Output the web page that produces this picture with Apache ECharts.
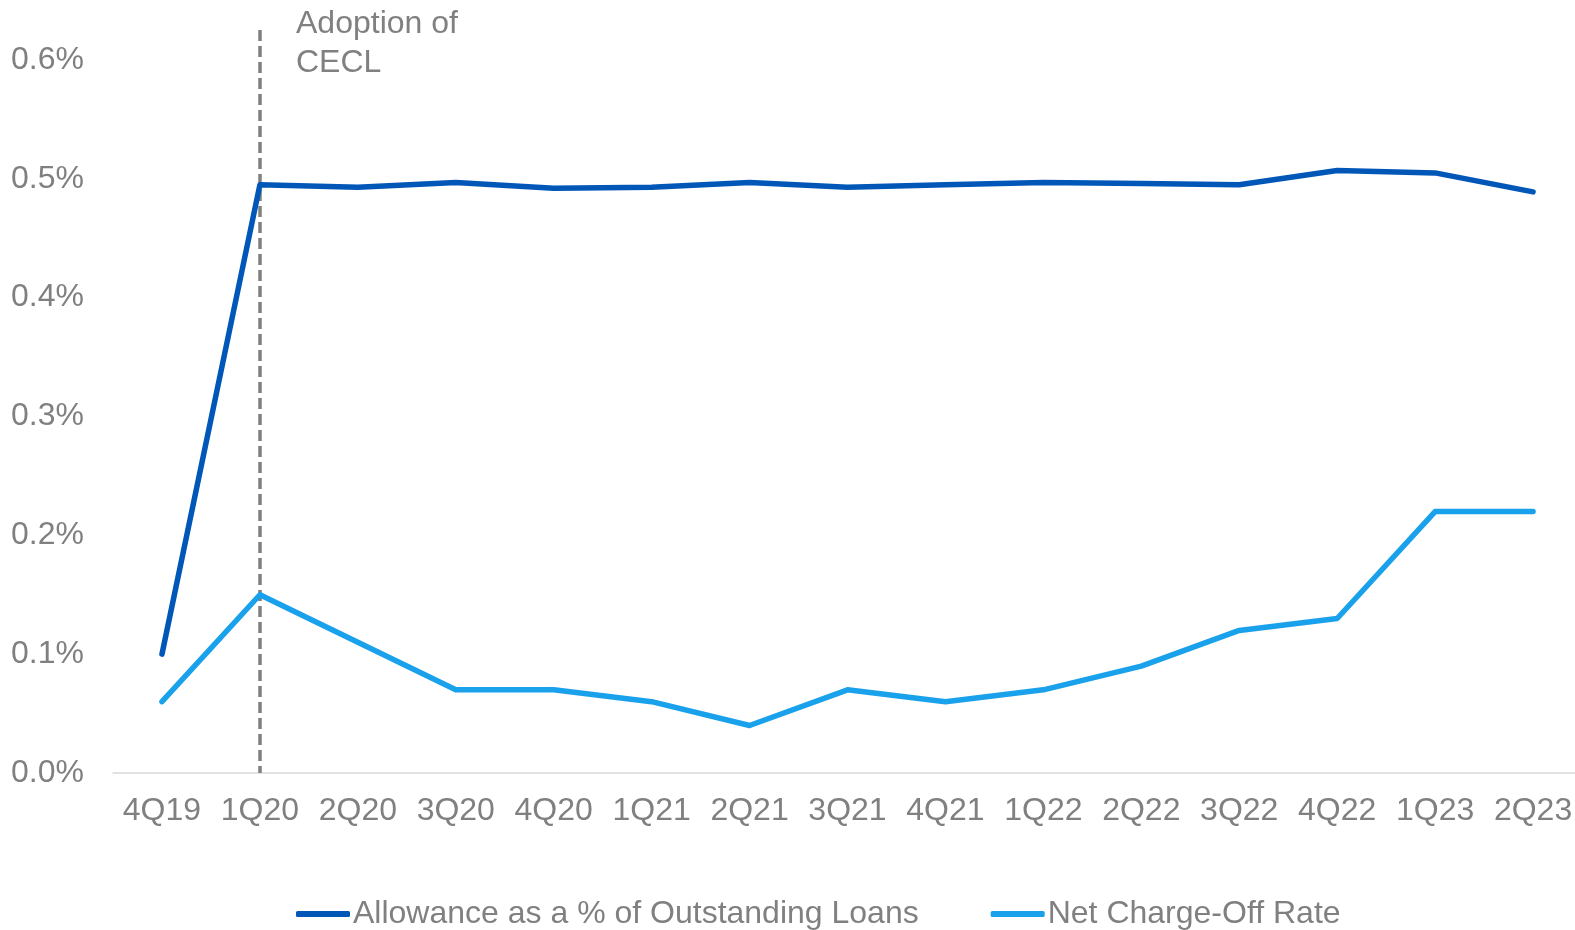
<!DOCTYPE html>
<html>
<head>
<meta charset="utf-8">
<script src="https://cdn.jsdelivr.net/npm/echarts@6/dist/echarts.min.js"></script>
<style>
  html, body { margin: 0; padding: 0; background: #fff; }
  #chart { width: 1575px; height: 930px; }
</style>
</head>
<body>
<div id="chart"></div>
<script>
// Quarterly credit metrics (percent)
const quarters = ['4Q19','1Q20','2Q20','3Q20','4Q20','1Q21','2Q21','3Q21','4Q21','1Q22','2Q22','3Q22','4Q22','1Q23','2Q23'];
const allowancePct = [0.100, 0.495, 0.493, 0.497, 0.492, 0.493, 0.497, 0.493, 0.495, 0.497, 0.496, 0.495, 0.507, 0.505, 0.489];
const netChargeOffPct = [0.06, 0.15, 0.11, 0.07, 0.07, 0.06, 0.04, 0.07, 0.06, 0.07, 0.09, 0.12, 0.13, 0.22, 0.22];
const yTicks = [0, 0.1, 0.2, 0.3, 0.4, 0.5, 0.6];
const cecl = { quarter: '1Q20', label: ['Adoption of', 'CECL'] };

const FONT = '"Liberation Sans", Arial, sans-serif';
const GRAY = '#808080';
const DARK = '#0057B8';
const LIGHT = '#1AA1EC';
const FS = 32;

const chart = echarts.init(document.getElementById('chart'), null, { renderer: 'canvas' });

chart.setOption({
  animation: false,
  backgroundColor: '#ffffff',
  grid: { left: 113, width: 1469, top: 60, bottom: 157, containLabel: false, outerBoundsMode: 'none' },
  xAxis: {
    type: 'category',
    data: quarters,
    boundaryGap: true,
    axisLine: { show: true, lineStyle: { color: '#D9D9D9', width: 1.5 } },
    axisTick: { show: false },
    axisLabel: { color: GRAY, fontFamily: FONT, fontSize: FS, margin: 22, interval: 0 }
  },
  yAxis: {
    type: 'value',
    min: yTicks[0],
    max: yTicks[yTicks.length - 1],
    interval: 0.1,
    axisLine: { show: false },
    axisTick: { show: false },
    splitLine: { show: false },
    axisLabel: {
      color: GRAY, fontFamily: FONT, fontSize: FS, margin: 29,
      formatter: v => v.toFixed(1) + '%'
    }
  },
  legend: {
    left: 296,
    top: 898,
    padding: 0,
    itemWidth: 54,
    itemHeight: 6,
    itemGap: 72,
    icon: 'roundRect',
    textStyle: { color: GRAY, fontFamily: FONT, fontSize: FS, padding: [0, 0, 0, -2] },
    data: ['Allowance as a % of Outstanding Loans', 'Net Charge-Off Rate']
  },
  series: [
    {
      name: 'Allowance as a % of Outstanding Loans',
      type: 'line',
      data: allowancePct,
      showSymbol: false,
      symbol: 'none',
      color: DARK,
      lineStyle: { color: DARK, width: 5.5, cap: 'round', join: 'round' },
      z: 3
    },
    {
      name: 'Net Charge-Off Rate',
      type: 'line',
      data: netChargeOffPct,
      showSymbol: false,
      symbol: 'none',
      color: LIGHT,
      lineStyle: { color: LIGHT, width: 5.5, cap: 'round', join: 'round' },
      z: 2
    }
  ]
});

// CECL adoption marker: dashed vertical line and its label, positioned via the axis scale
const markerBase = chart.convertToPixel({ xAxisIndex: 0, yAxisIndex: 0 }, [cecl.quarter, 0]);
const markerX = Math.round(markerBase[0]);
const markerY = markerBase[1];
chart.setOption({
  graphic: [
    {
      type: 'line',
      z: 1,
      shape: { x1: markerX, y1: 30, x2: markerX, y2: markerY },
      style: { stroke: GRAY, lineWidth: 3.5, lineDash: [11, 5] }
    },
    {
      type: 'text',
      left: markerX + 36,
      top: 5,
      style: {
        text: cecl.label.join('\n'),
        fill: GRAY,
        font: FS + 'px ' + FONT,
        lineHeight: 39
      }
    }
  ]
});
</script>
</body>
</html>
